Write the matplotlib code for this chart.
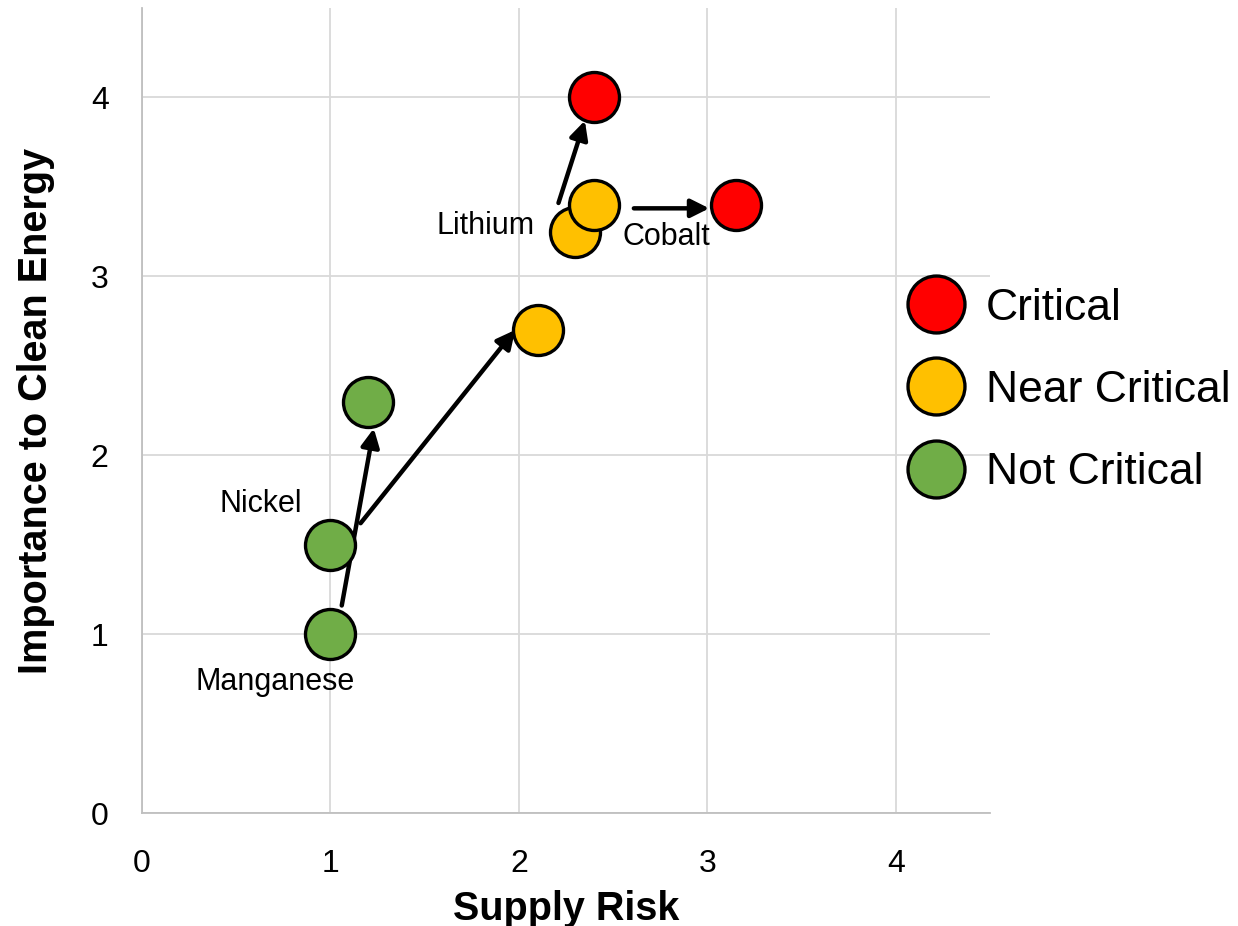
import matplotlib.pyplot as plt
from matplotlib.lines import Line2D
from matplotlib import font_manager

plt.rcParams['font.family'] = ['Liberation Sans', 'DejaVu Sans']

# element positions: supply risk vs importance to clean energy
supply_risk = [1.0, 1.0, 1.2, 2.1, 2.3, 2.4, 2.4, 3.15]
importance = [1.0, 1.5, 2.3, 2.7, 3.25, 3.4, 4.0, 3.4]
status = ['Not Critical', 'Not Critical', 'Not Critical', 'Near Critical',
          'Near Critical', 'Near Critical', 'Critical', 'Critical']

status_colors = {'Critical': '#ff0000', 'Near Critical': '#ffc000', 'Not Critical': '#70ad47'}
legend_order = ['Critical', 'Near Critical', 'Not Critical']

# arrows (start -> end) showing how each element moves
arrow_start = [(1.06, 1.16), (1.16, 1.62), (2.21, 3.41), (2.61, 3.38)]
arrow_end = [(1.23, 2.15), (1.98, 2.70), (2.35, 3.87), (3.01, 3.38)]

labels = ['Lithium', 'Cobalt', 'Nickel', 'Manganese']
label_pos = [(2.085, 3.28), (2.55, 3.22), (0.85, 1.73), (1.13, 0.73)]
label_ha = ['right', 'left', 'right', 'right']

# narrow face for the legend if the system has one
names = {f.name for f in font_manager.fontManager.ttflist}
legend_font = 'Liberation Sans Narrow' if 'Liberation Sans Narrow' in names else 'Liberation Sans'

fig = plt.figure(figsize=(12.38, 9.26), dpi=100)
ax = fig.add_axes([0.1147, 0.122, 0.685, 0.8694])

for x0y0, x1y1 in zip(arrow_start, arrow_end):
    ax.annotate('', xy=x1y1, xytext=x0y0,
                arrowprops=dict(arrowstyle='-|>,head_length=0.5,head_width=0.25',
                                color='black', lw=3.2,
                                mutation_scale=22, shrinkA=0, shrinkB=0),
                zorder=2)

for x, y, s in zip(supply_risk, importance, status):
    ax.plot(x, y, 'o', ms=36, mfc=status_colors[s], mec='black', mew=2.4, zorder=3)

for t, (x, y), ha in zip(labels, label_pos, label_ha):
    ax.text(x, y, t, fontsize=22, ha=ha, va='center', zorder=4)

ax.set_xlim(0, 4.5)
ax.set_ylim(0, 4.5)
ax.set_xticks([0, 1, 2, 3, 4])
ax.set_yticks([0, 1, 2, 3, 4])
ax.grid(True, color='#d9d9d9', lw=1.3)
ax.set_axisbelow(True)
for side in ['top', 'right']:
    ax.spines[side].set_visible(False)
for side in ['left', 'bottom']:
    ax.spines[side].set_color('#bfbfbf')
    ax.spines[side].set_linewidth(1.3)
ax.tick_params(axis='x', length=0, labelsize=23, pad=26)
ax.tick_params(axis='y', length=0, labelsize=23, pad=24)
ax.set_xlabel('Supply Risk', fontsize=28.5, fontweight='bold', labelpad=8)
ax.set_ylabel('Importance to Clean Energy', fontsize=28.5, fontweight='bold', labelpad=26)

handles = [Line2D([], [], ls='none', marker='o', ms=41, mfc=status_colors[s],
                  mec='black', mew=2.4) for s in legend_order]
ax.legend(handles, legend_order, loc='center left', bbox_to_anchor=(0.902, 0.525),
          frameon=False, prop={'family': legend_font, 'size': 32},
          handlelength=1.3, handletextpad=0.48, labelspacing=0.93,
          borderaxespad=0, borderpad=0)

fig.savefig('out.png', dpi=100)
